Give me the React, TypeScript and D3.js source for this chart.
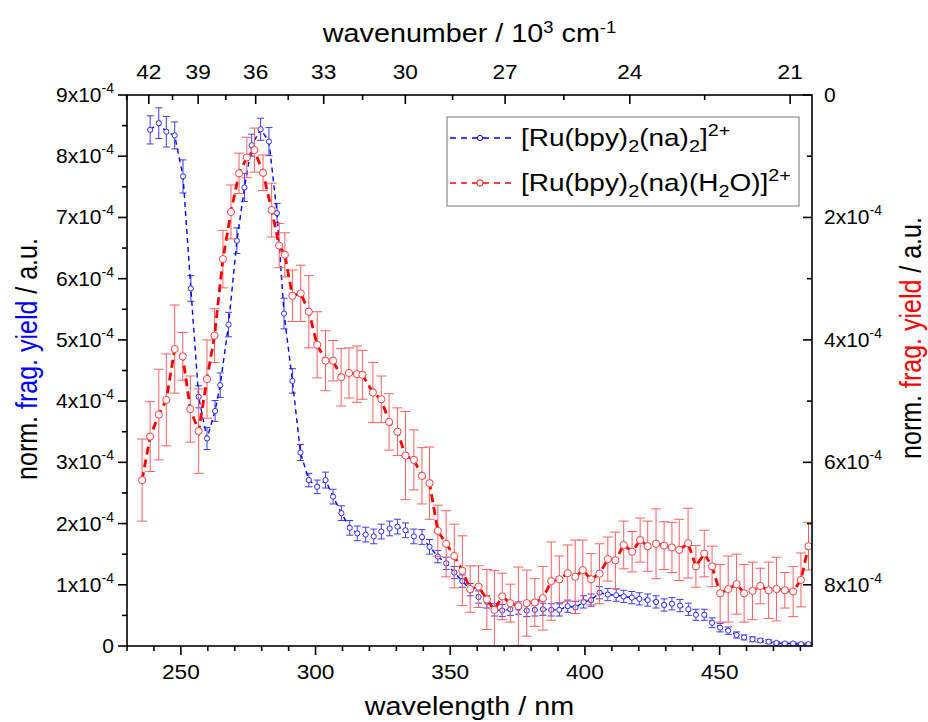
import React from 'react';
import * as d3 from 'd3';

// [wavelength nm, value (x1e-4), error (x1e-4)]
const blueSeries: [number, number, number][] = [
  [238.6, 8.43, 0.23], [241.8, 8.54, 0.25], [244.6, 8.40, 0.25], [247.7, 8.34, 0.22], [250.8, 7.67, 0.27],
  [253.7, 5.84, 0.21], [256.6, 4.07, 0.18], [259.7, 3.39, 0.18], [262.7, 3.84, 0.17], [264.6, 4.26, 0.20],
  [267.7, 5.25, 0.20], [270.8, 6.62, 0.21], [273.6, 7.49, 0.23], [276.3, 8.18, 0.18], [279.6, 8.44, 0.18],
  [282.7, 8.24, 0.23], [285.7, 7.07, 0.16], [288.3, 5.43, 0.25], [291.4, 4.33, 0.20], [294.4, 3.16, 0.13],
  [297.5, 2.71, 0.11], [300.6, 2.60, 0.11], [303.7, 2.71, 0.13], [306.5, 2.44, 0.12], [309.6, 2.17, 0.12],
  [312.7, 1.93, 0.12], [315.5, 1.84, 0.12], [318.6, 1.82, 0.12], [321.6, 1.79, 0.12], [324.4, 1.87, 0.12],
  [327.5, 1.92, 0.12], [330.4, 1.95, 0.12], [333.4, 1.89, 0.12], [336.5, 1.79, 0.12], [339.5, 1.78, 0.12],
  [342.3, 1.62, 0.12], [345.4, 1.46, 0.10], [348.5, 1.35, 0.10], [351.5, 1.20, 0.10], [354.5, 1.06, 0.10],
  [357.4, 0.92, 0.10], [360.5, 0.80, 0.10], [363.6, 0.72, 0.10], [366.4, 0.59, 0.10], [369.3, 0.58, 0.10],
  [372.3, 0.60, 0.10], [375.3, 0.62, 0.10], [378.4, 0.58, 0.10], [381.4, 0.59, 0.10], [384.4, 0.60, 0.10],
  [387.5, 0.59, 0.10], [390.5, 0.59, 0.10], [393.6, 0.65, 0.10], [396.5, 0.63, 0.10], [399.5, 0.72, 0.10],
  [402.3, 0.75, 0.10], [405.4, 0.87, 0.10], [408.5, 0.84, 0.10], [411.6, 0.83, 0.10], [414.4, 0.81, 0.10],
  [417.4, 0.79, 0.10], [420.2, 0.77, 0.10], [423.3, 0.75, 0.10], [426.4, 0.72, 0.10], [429.4, 0.67, 0.10],
  [432.3, 0.69, 0.10], [435.3, 0.66, 0.10], [438.4, 0.60, 0.10], [441.2, 0.51, 0.09], [444.3, 0.51, 0.09],
  [447.2, 0.38, 0.08], [450.2, 0.30, 0.07], [453.2, 0.25, 0.06], [456.3, 0.18, 0.05], [459.1, 0.14, 0.04],
  [462.2, 0.11, 0.04], [465.1, 0.09, 0.03], [468.2, 0.07, 0.03], [471.1, 0.05, 0.02], [474.2, 0.04, 0.02],
  [477.3, 0.04, 0.02], [480.2, 0.03, 0.02], [483.0, 0.03, 0.02],
];

const redSeries: [number, number, number][] = [
  [235.6, 2.71, 0.67], [238.6, 3.42, 0.57], [241.8, 3.78, 0.74], [244.6, 4.02, 0.75], [247.7, 4.85, 0.72],
  [250.7, 4.73, 0.39], [253.5, 3.87, 0.54], [256.6, 3.51, 0.69], [259.7, 4.36, 0.64], [262.5, 5.07, 0.44],
  [265.6, 6.32, 0.47], [268.6, 7.09, 0.44], [271.6, 7.72, 0.33], [274.5, 7.98, 0.33], [277.3, 8.10, 0.36],
  [280.5, 7.73, 0.29], [283.7, 7.12, 0.44], [286.5, 6.54, 0.36], [288.6, 6.39, 0.36], [291.4, 5.72, 0.42],
  [294.5, 5.76, 0.46], [297.5, 5.46, 0.59], [300.6, 4.92, 0.54], [303.7, 4.66, 0.49], [306.5, 4.66, 0.33],
  [309.5, 4.39, 0.47], [312.4, 4.46, 0.41], [315.4, 4.44, 0.46], [317.4, 4.43, 0.40], [321.3, 4.14, 0.49],
  [324.4, 4.03, 0.38], [327.3, 3.66, 0.46], [330.4, 3.50, 0.39], [333.4, 3.11, 0.72], [336.5, 3.04, 0.49],
  [339.5, 2.78, 0.46], [342.3, 2.66, 0.59], [345.4, 1.88, 0.42], [348.5, 1.67, 0.54], [351.5, 1.47, 0.52],
  [354.5, 1.23, 0.57], [357.4, 0.93, 0.38], [360.5, 0.97, 0.34], [363.6, 0.76, 0.49], [366.4, 0.59, 0.64],
  [369.3, 0.81, 0.38], [372.3, 0.70, 0.31], [375.3, 0.65, 0.64], [378.4, 0.70, 0.54], [381.4, 0.71, 0.39],
  [384.4, 0.78, 0.52], [387.5, 1.06, 0.64], [390.5, 1.09, 0.38], [393.6, 1.19, 0.46], [396.4, 1.13, 0.60],
  [399.2, 1.24, 0.49], [402.3, 1.09, 0.42], [405.4, 1.18, 0.49], [408.5, 1.42, 0.36], [411.3, 1.40, 0.46],
  [414.4, 1.65, 0.39], [417.5, 1.54, 0.33], [420.5, 1.73, 0.36], [423.3, 1.63, 0.41], [426.4, 1.67, 0.57],
  [429.4, 1.64, 0.39], [432.3, 1.61, 0.41], [435.0, 1.57, 0.50], [438.3, 1.68, 0.57], [441.2, 1.30, 0.34],
  [444.3, 1.51, 0.38], [447.2, 1.30, 0.33], [450.2, 0.86, 0.47], [453.2, 0.93, 0.54], [456.3, 1.01, 0.49],
  [459.1, 0.86, 0.47], [462.2, 0.90, 0.47], [465.1, 0.98, 0.29], [468.2, 0.91, 0.46], [471.1, 0.93, 0.52],
  [474.2, 0.91, 0.29], [477.3, 0.89, 0.41], [480.2, 1.08, 0.44], [483.0, 1.63, 0.39],
];

const bottomMajor = [250, 300, 350, 400, 450];
const bottomMinor = [230, 240, 260, 270, 280, 290, 310, 320, 330, 340, 360, 370, 380, 390, 410, 420, 430, 440, 460, 470, 480];
const topMajor = [42, 39, 36, 33, 30, 27, 24, 21];
const topMinor = [43.5, 40.5, 37.5, 34.5, 31.5, 28.5, 25.5, 22.5];
const leftMajor = [0, 1, 2, 3, 4, 5, 6, 7, 8, 9];
const leftMinor = [0.5, 1.5, 2.5, 3.5, 4.5, 5.5, 6.5, 7.5, 8.5];
const rightMajor = [0, 2, 4, 6, 8];
const rightMinor = [1, 3, 5, 7];

const W = 928, H = 722;
const L = 127, R = 812, T = 95, B = 646;
const FONT = 'Liberation Sans, Arial, Helvetica, sans-serif';
const BLUE = '#0000ff';
const RED = '#ff0000';

export default function App() {
  const x = d3.scaleLinear().domain([230, 484.3]).range([L, R]);
  const y = d3.scaleLinear().domain([0, 9]).range([B, T]);
  const yR = d3.scaleLinear().domain([0, 9]).range([T, B]);
  const xTop = (k: number) => x(1e4 / k);
  const line = d3.line<[number, number, number]>().x(d => x(d[0])).y(d => y(d[1]));

  const tickFs = 21;
  const supFs = 14;
  const SX = 1.15;

  const renderSeries = (data: [number, number, number][], color: string, errColor: string, cap: number, r: number, lw: number, dash: string, mStroke: string) => (
    <g>
      {data.map((d, i) => (
        <g key={'e' + i} stroke={errColor} strokeWidth={1}>
          <line x1={x(d[0])} x2={x(d[0])} y1={y(d[1] - d[2])} y2={y(d[1] + d[2])} />
          <line x1={x(d[0]) - cap} x2={x(d[0]) + cap} y1={y(d[1] - d[2])} y2={y(d[1] - d[2])} />
          <line x1={x(d[0]) - cap} x2={x(d[0]) + cap} y1={y(d[1] + d[2])} y2={y(d[1] + d[2])} />
        </g>
      ))}
      <path d={line(data) || ''} fill="none" stroke={color} strokeWidth={lw} strokeDasharray={dash} />
      {data.map((d, i) => (
        <circle key={'c' + i} cx={x(d[0])} cy={y(d[1])} r={r} fill="#fff" stroke={mStroke} strokeWidth={1} />
      ))}
    </g>
  );

  const sciLabel = (v: number) =>
    v === 0 ? '0' : <>{v}x10<tspan dy={-9} fontSize={supFs}>-4</tspan></>;

  return (
    <svg width={W} height={H} style={{ position: 'absolute', left: 0, top: 0, background: '#fff' }} fontFamily={FONT}>
      <defs>
        <clipPath id="plotclip">
          <rect x={L} y={T} width={R - L} height={B - T} />
        </clipPath>
      </defs>
      <rect x={0} y={0} width={W} height={H} fill="#fff" />

      <g clipPath="url(#plotclip)">
        {renderSeries(blueSeries, BLUE, '#3b3bff', 3.5, 2.6, 1.4, '5,4', '#2a2aff')}
        {renderSeries(redSeries, RED, '#ff6060', 5, 3.6, 2.8, '8,5', '#ff3c3c')}
      </g>

      {/* frame */}
      <rect x={L} y={T} width={R - L} height={B - T} fill="none" stroke="#000" strokeWidth={1.6} />

      {/* bottom axis */}
      {bottomMajor.map(v => (
        <g key={'bM' + v}>
          <line x1={x(v)} x2={x(v)} y1={B} y2={B + 9} stroke="#000" strokeWidth={1.6} />
          <text transform={`translate(${x(v)},${B + 33}) scale(1.08,1)`} fontSize={tickFs} textAnchor="middle">{v}</text>
        </g>
      ))}
      {bottomMinor.map(v => (
        <line key={'bm' + v} x1={x(v)} x2={x(v)} y1={B} y2={B + 5} stroke="#000" strokeWidth={1.6} />
      ))}
      <text transform={`translate(${(L + R) / 2},715) scale(${SX},1)`} fontSize={25} textAnchor="middle">wavelength / nm</text>

      {/* top axis */}
      {topMajor.map(v => (
        <g key={'tM' + v}>
          <line x1={xTop(v)} x2={xTop(v)} y1={T} y2={T + 9} stroke="#000" strokeWidth={1.6} />
          <text transform={`translate(${xTop(v)},${T - 16}) scale(1.08,1)`} fontSize={tickFs} textAnchor="middle">{v}</text>
        </g>
      ))}
      {topMinor.map(v => (
        <line key={'tm' + v} x1={xTop(v)} x2={xTop(v)} y1={T} y2={T + 5} stroke="#000" strokeWidth={1.6} />
      ))}
      <text transform={`translate(${(L + R) / 2},42) scale(${SX},1)`} fontSize={25} textAnchor="middle">
        wavenumber / 10<tspan dy={-9} fontSize={16}>3</tspan><tspan dy={9}> cm</tspan><tspan dy={-9} fontSize={16}>-1</tspan>
      </text>

      {/* left axis */}
      {leftMajor.map(v => (
        <g key={'lM' + v}>
          <line x1={L - 9} x2={L} y1={y(v)} y2={y(v)} stroke="#000" strokeWidth={1.6} />
          <text x={L - 13} y={y(v) + 7} fontSize={tickFs} textAnchor="end">{sciLabel(v)}</text>
        </g>
      ))}
      {leftMinor.map(v => (
        <line key={'lm' + v} x1={L - 5} x2={L} y1={y(v)} y2={y(v)} stroke="#000" strokeWidth={1.6} />
      ))}
      <text transform={`translate(37,359) scale(${SX},1) rotate(-90)`} fontSize={25} textAnchor="middle">
        norm. <tspan fill={BLUE}>frag. yield</tspan> / a.u.
      </text>

      {/* right axis */}
      {rightMajor.map(v => (
        <g key={'rM' + v}>
          <line x1={R - 9} x2={R} y1={yR(v)} y2={yR(v)} stroke="#000" strokeWidth={1.6} />
          <text x={R + 12} y={yR(v) + 7} fontSize={tickFs} textAnchor="start">{sciLabel(v)}</text>
        </g>
      ))}
      {rightMinor.map(v => (
        <line key={'rm' + v} x1={R - 5} x2={R} y1={yR(v)} y2={yR(v)} stroke="#000" strokeWidth={1.6} />
      ))}
      <text transform={`translate(921,338) scale(${SX},1) rotate(-90)`} fontSize={25} textAnchor="middle">
        norm. <tspan fill={RED}>frag. yield</tspan> / a.u.
      </text>

      {/* legend */}
      <rect x={447} y={117} width={352} height={89} fill="#fff" stroke="#777" strokeWidth={1} />
      <line x1={450} x2={512} y1={138} y2={138} stroke={BLUE} strokeWidth={1.4} strokeDasharray="6,5" />
      <circle cx={480} cy={138} r={2.6} fill="#fff" stroke={BLUE} strokeWidth={1} />
      <text transform={`translate(521,146) scale(1.165,1)`} fontSize={24}>
        [Ru(bpy)<tspan dy={6} fontSize={17}>2</tspan><tspan dy={-6}>(na)</tspan><tspan dy={6} fontSize={17}>2</tspan><tspan dy={-6}>]</tspan><tspan dy={-10} fontSize={17}>2+</tspan>
      </text>
      <line x1={450} x2={512} y1={183} y2={183} stroke={RED} strokeWidth={1.6} strokeDasharray="6,5" />
      <circle cx={480} cy={183} r={3.2} fill="#fff" stroke={RED} strokeWidth={1} />
      <text transform={`translate(521,191) scale(1.165,1)`} fontSize={24}>
        [Ru(bpy)<tspan dy={6} fontSize={17}>2</tspan><tspan dy={-6}>(na)(H</tspan><tspan dy={6} fontSize={17}>2</tspan><tspan dy={-6}>O)]</tspan><tspan dy={-10} fontSize={17}>2+</tspan>
      </text>
    </svg>
  );
}
